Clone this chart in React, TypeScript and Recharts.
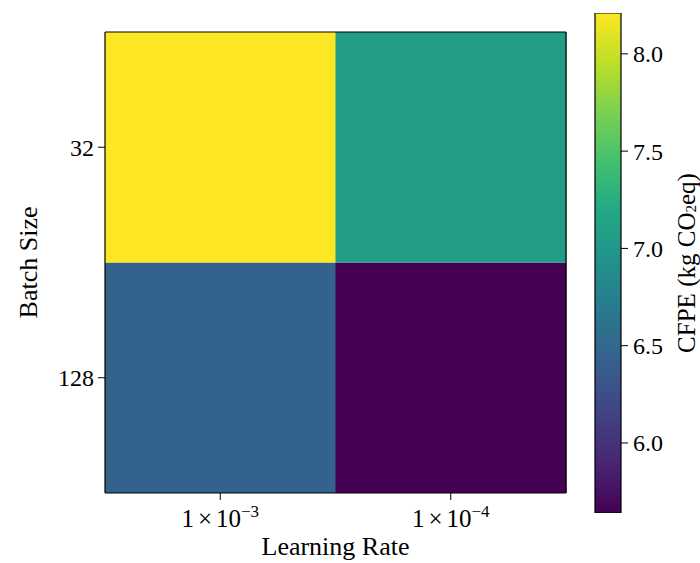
import React from "react";
import { BarChart, Bar, XAxis, YAxis, Cell, Label } from "recharts";

// learning rates as powers of ten, left to right
const lrExponents = [-3, -4];
// batch sizes, top to bottom
const batchSizes = ["32", "128"];
// CFPE (kg CO2eq) per learning rate
const cfpeBatch32 = [8.21, 7.07];
const cfpeBatch128 = [6.45, 5.64];
const colorbarTicks = [6.0, 6.5, 7.0, 7.5, 8.0];

const allValues = [...cfpeBatch32, ...cfpeBatch128];
const vMin = Math.min(...allValues);
const vMax = Math.max(...allValues);

const VIRIDIS = [
  "#440154", "#482475", "#414487", "#355f8d", "#2a788e", "#21918c",
  "#22a884", "#42be71", "#7ad151", "#bddf26", "#fde725",
];

const hexToRgb = (h: string) => [1, 3, 5].map((i) => parseInt(h.slice(i, i + 2), 16));

const viridis = (t: number) => {
  const c = Math.max(0, Math.min(1, t)) * (VIRIDIS.length - 1);
  const i = Math.min(Math.floor(c), VIRIDIS.length - 2);
  const f = c - i;
  const a = hexToRgb(VIRIDIS[i]);
  const b = hexToRgb(VIRIDIS[i + 1]);
  const rgb = a.map((v, k) => Math.round(v + (b[k] - v) * f));
  return `rgb(${rgb.join(",")})`;
};

const colorFor = (v: number) => viridis((v - vMin) / (vMax - vMin));

// each stacked bar segment is one heatmap cell of unit height
const data = lrExponents.map((exp, i) => ({
  exp,
  b128: 1,
  b32: 1,
  v128: cfpeBatch128[i],
  v32: cfpeBatch32[i],
}));

const colorbarData = [{ name: "cbar", range: [vMin, vMax] }];

const FONT = "'Liberation Serif', 'Times New Roman', serif";

const LrTick = (props: any) => {
  const { x, y, payload } = props;
  const exp = payload.value as number;
  return (
    <g transform={`translate(${x},${y})`}>
      <text textAnchor="middle" y={25} fontSize={25} fontFamily={FONT} fill="#000">
        <tspan>1</tspan>
        <tspan dx={4}>×</tspan>
        <tspan dx={4}>10</tspan>
        <tspan dy={-10} fontSize={17}>{`−${Math.abs(exp)}`}</tspan>
      </text>
    </g>
  );
};

const batchLabel = (props: any) => {
  const { x, y, height } = props.viewBox;
  const cx = x + 28;
  const cy = y + height / 2;
  return (
    <text x={cx} y={cy} transform={`rotate(-90, ${cx}, ${cy})`} textAnchor="middle"
      dominantBaseline="central" fontSize={26} fontFamily={FONT} fill="#000">
      Batch Size
    </text>
  );
};

const lrLabel = (props: any) => {
  const { x, y, width } = props.viewBox;
  return (
    <text x={x + width / 2} y={y + 62} textAnchor="middle" fontSize={26} fontFamily={FONT} fill="#000">
      Learning Rate
    </text>
  );
};

const cfpeLabel = (props: any) => {
  const { x, y, height } = props.viewBox;
  const cx = x + 65;
  const cy = y + height / 2;
  return (
    <text x={cx} y={cy} transform={`rotate(-90, ${cx}, ${cy})`} textAnchor="middle"
      dominantBaseline="central" fontSize={25} fontFamily={FONT} fill="#000">
      <tspan>CFPE (kg CO</tspan>
      <tspan fontSize={15} dy={5}>2</tspan>
      <tspan dy={-5}>eq)</tspan>
    </text>
  );
};

const tickStyle = { fontSize: 24, fontFamily: FONT, fill: "#000" };
const frame = { stroke: "#000", strokeWidth: 1.2 };

export default function App() {
  return (
    <div style={{ position: "absolute", left: 0, top: 0, width: 700, height: 563, background: "#fff" }}>
      <div style={{ position: "absolute", left: 0, top: 0 }}>
        <BarChart width={590} height={563} data={data} barCategoryGap={0} barGap={0}
          margin={{ top: 31, right: 23, bottom: 0, left: 0 }}>
          <XAxis dataKey="exp" height={70} tick={<LrTick />} tickSize={7}
            axisLine={frame} tickLine={{ stroke: "#000" }}>
            <Label content={lrLabel} />
          </XAxis>
          <XAxis xAxisId="top" dataKey="exp" orientation="top" height={1} tick={false}
            tickLine={false} axisLine={frame} />
          <YAxis type="number" domain={[0, 2]} ticks={[0.5, 1.5]} width={105} tickSize={7}
            tickMargin={4} tick={tickStyle}
            tickFormatter={(v: number) => batchSizes[Math.floor(2 - v)]}
            axisLine={frame} tickLine={{ stroke: "#000" }}>
            <Label content={batchLabel} />
          </YAxis>
          <YAxis yAxisId="right" type="number" domain={[0, 2]} orientation="right" width={1}
            tick={false} tickLine={false} axisLine={frame} />
          <Bar dataKey="b128" stackId="a" isAnimationActive={false}>
            {data.map((d, i) => (
              <Cell key={`c128-${i}`} fill={colorFor(d.v128)} />
            ))}
          </Bar>
          <Bar dataKey="b32" stackId="a" isAnimationActive={false}>
            {data.map((d, i) => (
              <Cell key={`c32-${i}`} fill={colorFor(d.v32)} />
            ))}
          </Bar>
        </BarChart>
      </div>
      <div style={{ position: "absolute", left: 560, top: 0 }}>
        <BarChart width={140} height={563} data={colorbarData} barCategoryGap={0}
          margin={{ top: 13, right: 0, bottom: 50, left: 35 }}>
          <defs>
            <linearGradient id="viridisGrad" x1="0" y1="1" x2="0" y2="0">
              {VIRIDIS.map((c, i) => (
                <stop key={c} offset={`${(i / (VIRIDIS.length - 1)) * 100}%`} stopColor={c} />
              ))}
            </linearGradient>
          </defs>
          <XAxis dataKey="name" hide />
          <YAxis type="number" orientation="right" domain={[vMin, vMax]} ticks={colorbarTicks}
            allowDataOverflow width={79} tickSize={7} tickMargin={5} tick={{ ...tickStyle, textAnchor: "start" }}
            tickFormatter={(v: number) => v.toFixed(1)} axisLine={false} tickLine={{ stroke: "#000" }}>
            <Label content={cfpeLabel} />
          </YAxis>
          <Bar dataKey="range" fill="url(#viridisGrad)" stroke="#000" strokeWidth={1.2}
            isAnimationActive={false} />
        </BarChart>
      </div>
    </div>
  );
}
